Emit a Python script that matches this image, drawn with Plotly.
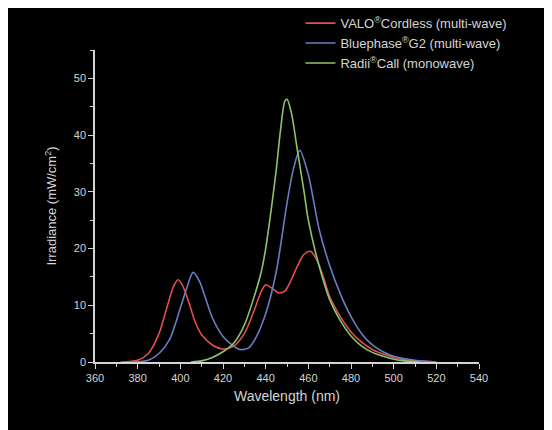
import plotly.graph_objects as go

# Data
valo_x = [372, 380, 385, 390, 394, 397, 399, 401, 404, 407, 410, 415, 420, 425, 430, 435, 438, 440, 443, 446,
          449, 452, 455, 458, 461, 464, 467, 470, 475, 480, 485, 490, 495, 500, 505, 510, 520]
valo_y = [0, 0.3, 1.5, 5, 10, 13.5, 14.5, 13.5, 10.5, 7, 4.8, 3, 2.3, 2.8, 5, 9.5, 12.5, 13.6, 13, 12.2,
          12.5, 14.5, 17, 19, 19.5, 18, 15, 11.5, 8, 5.3, 3.5, 2.2, 1.4, 0.8, 0.4, 0.2, 0]

blue_x = [378, 385, 390, 395, 400, 403, 406, 409, 412, 415, 420, 425, 428, 432, 435, 440, 445, 450, 453, 456,
          460, 465, 470, 475, 480, 485, 490, 495, 500, 510, 520]
blue_y = [0, 0.3, 1.5, 4, 9.5, 13, 15.8, 14.2, 11, 7.8, 4.5, 2.8, 2.2, 2.5, 4, 8.5, 16, 28, 34, 37.3,
          33, 23.5, 17, 12, 8, 5, 3, 1.8, 1.0, 0.3, 0]

green_x = [405, 410, 415, 420, 425, 430, 435, 438, 440, 443, 445, 447, 449, 450, 452, 455, 458, 460, 465,
           470, 475, 480, 485, 490, 495, 500, 505, 512]
green_y = [0, 0.2, 0.8, 1.8, 3.3, 6.5, 12, 16, 20, 28, 34, 41, 46, 46.3, 44, 37, 30, 25, 17,
           11, 7.3, 4.6, 2.8, 1.7, 1.0, 0.5, 0.2, 0]

names = ["VALO<sup>®</sup>Cordless (multi-wave)",
         "Bluephase<sup>®</sup>G2 (multi-wave)",
         "Radii<sup>®</sup>Call (monowave)"]
colors = ["#e05050", "#6a7cc4", "#8cc46a"]

x_ticks = [360, 380, 400, 420, 440, 460, 480, 500, 520, 540]
y_ticks = [0, 10, 20, 30, 40, 50]

fig = go.Figure()
for xs, ys, nm, c in zip([valo_x, blue_x, green_x], [valo_y, blue_y, green_y], names, colors):
    fig.add_trace(go.Scatter(x=xs, y=ys, mode="lines", name=nm,
                             line=dict(color=c, width=1.6, shape="spline", smoothing=0.8)))

txt = "#d4d4d4"
fnt = "Liberation Sans, Arial, sans-serif"

fig.update_layout(
    width=544, height=422,
    margin=dict(l=87, r=73, t=42, b=68, autoexpand=False),
    paper_bgcolor="black", plot_bgcolor="black",
    font=dict(family=fnt, color=txt, size=11),
    showlegend=True,
    legend=dict(x=0.535, y=1.134, xanchor="left", yanchor="top",
                bgcolor="rgba(0,0,0,0)", font=dict(size=13, color=txt),
                tracegroupgap=0, itemwidth=30),
    xaxis=dict(range=[360, 540], tickvals=x_ticks, ticks="outside", ticklen=5,
               tickcolor=txt, showline=True, linecolor=txt, linewidth=1.5,
               showgrid=False, zeroline=False,
               minor=dict(dtick=10, tick0=360, ticks="outside", ticklen=3, tickcolor=txt),
               title=dict(text="Wavelength (nm)", font=dict(size=14, color=txt), standoff=8),
               tickfont=dict(size=11, color=txt)),
    yaxis=dict(range=[0, 55], tickvals=y_ticks, ticks="outside", ticklen=5,
               tickcolor=txt, showline=True, linecolor=txt, linewidth=1.5,
               showgrid=False, zeroline=False,
               minor=dict(dtick=5, tick0=0, ticks="outside", ticklen=3, tickcolor=txt),
               title=dict(text="Irradiance (mW/cm<sup>2</sup>)", font=dict(size=13, color=txt), standoff=14),
               tickfont=dict(size=11, color=txt)),
)

fig.write_html("out.html")
